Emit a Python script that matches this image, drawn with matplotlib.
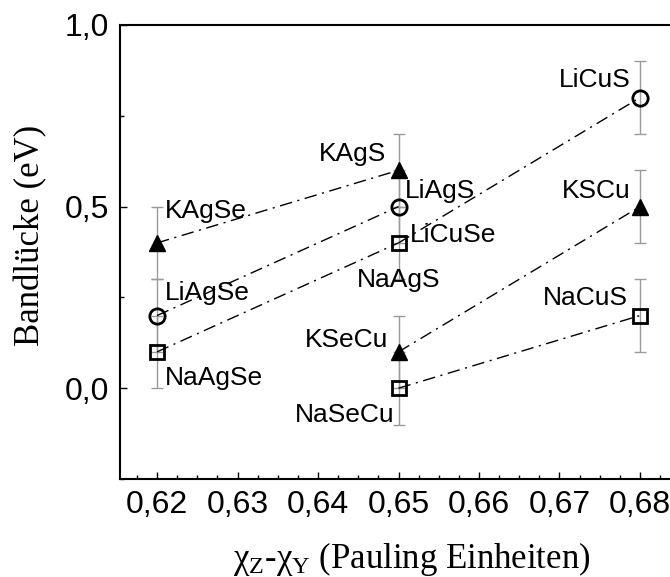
import matplotlib
matplotlib.use('Agg')
import matplotlib.pyplot as plt
from matplotlib.ticker import MultipleLocator, FuncFormatter

plt.rcParams['mathtext.fontset'] = 'custom'
plt.rcParams['mathtext.rm'] = 'Liberation Serif'
plt.rcParams['mathtext.it'] = 'Liberation Serif:italic'

# compounds: name, x (electronegativity difference), band gap (eV), marker
names = ['KAgSe', 'LiAgSe', 'NaAgSe', 'KAgS', 'LiAgS', 'NaAgS',
         'KSeCu', 'NaSeCu', 'LiCuS', 'KSCu', 'NaCuS']
x_val = [0.62, 0.62, 0.62, 0.65, 0.65, 0.65, 0.65, 0.65, 0.68, 0.68, 0.68]
gap = [0.4, 0.2, 0.1, 0.6, 0.5, 0.4, 0.1, 0.0, 0.8, 0.5, 0.2]
markers = ['^', 'o', 's', '^', 'o', 's', '^', 's', 'o', '^', 's']
err = 0.1

# connecting dash-dot lines (pairs of compound names)
links = [('KAgSe', 'KAgS'), ('LiAgSe', 'LiAgS'), ('NaAgSe', 'NaAgS'),
         ('NaAgS', 'LiCuS'), ('KSeCu', 'KSCu'), ('NaSeCu', 'NaCuS')]

# extra label drawn on the NaAgS square
extra_label = 'LiCuSe'

# label placement: (ha, dx px, dy px to baseline)
lab_pos = {
    'KAgSe': ('left', 8, 25), 'LiAgSe': ('left', 8, 16), 'NaAgSe': ('left', 8, -33),
    'KAgS': ('right', -12, 9), 'LiAgS': ('left', 6, 9), 'NaAgS': ('center', 0, -44),
    'KSeCu': ('right', -10, 5), 'NaSeCu': ('right', -4, -34),
    'LiCuS': ('right', -9, 11), 'KSCu': ('right', -9, 9), 'NaCuS': ('right', -12, 11),
}

fig = plt.figure(figsize=(6.7, 5.77), dpi=100)
ax = fig.add_axes([120/670, 1 - 479/577, 557/670, 454/577])

idx = {n: i for i, n in enumerate(names)}
for a, b in links:
    ia, ib = idx[a], idx[b]
    ax.plot([x_val[ia], x_val[ib]], [gap[ia], gap[ib]], color='black', lw=1.0,
            dashes=[9, 4, 1.5, 4], zorder=2)

ax.errorbar(x_val, gap, yerr=err, fmt='none', ecolor='#9a9a9a', elinewidth=1.0,
            capsize=4, capthick=1.0, zorder=1)

for xi, yi, m in zip(x_val, gap, markers):
    if m == '^':
        ax.plot(xi, yi, marker='^', ms=12, color='black', zorder=3)
    elif m == 'o':
        ax.plot(xi, yi, marker='o', ms=11, mfc='none', mec='black', mew=2, zorder=3)
    else:
        ax.plot(xi, yi, marker='s', ms=10, mfc='none', mec='black', mew=2, zorder=3)

lab_font = dict(family='Liberation Sans', size=19)
for n, xi, yi in zip(names, x_val, gap):
    ha, dx, dy = lab_pos[n]
    ax.annotate(n, (xi, yi), xytext=(dx, dy), textcoords='offset pixels',
                ha=ha, va='baseline', **lab_font)
i = idx['NaAgS']
ax.annotate(extra_label, (x_val[i], gap[i]), xytext=(11, 1), textcoords='offset pixels',
            ha='left', va='baseline', **lab_font)

ax.set_xlim(0.6154, 0.6846)
ax.set_ylim(-0.25, 1.0)
ax.xaxis.set_major_locator(MultipleLocator(0.01))
ax.xaxis.set_minor_locator(MultipleLocator(0.0025))
ax.yaxis.set_major_locator(MultipleLocator(0.5))
ax.yaxis.set_minor_locator(MultipleLocator(0.25))
ax.xaxis.set_major_formatter(FuncFormatter(lambda v, p: f'{v:.2f}'.replace('.', ',')))
ax.yaxis.set_major_formatter(FuncFormatter(lambda v, p: f'{v:.1f}'.replace('.', ',')))
ax.tick_params(which='both', direction='in', width=1.0, top=False, right=False)
ax.tick_params(which='major', length=5, pad=8, labelsize=23)
ax.tick_params(which='minor', length=3)
for lbl in ax.get_xticklabels() + ax.get_yticklabels():
    lbl.set_family('Liberation Sans')
for s in ax.spines.values():
    s.set_linewidth(1.5)

ax.set_xlabel('χ$_{\\rm Z}$-χ$_{\\rm Y}$ (Pauling Einheiten)', family='Liberation Serif', size=25)
ax.set_ylabel('Bandlücke (eV)', family='Liberation Serif', size=25)
ax.xaxis.set_label_coords(0.524, -0.135)
ax.yaxis.set_label_coords(-0.13, 0.537)

fig.savefig('out.png', dpi=100)
